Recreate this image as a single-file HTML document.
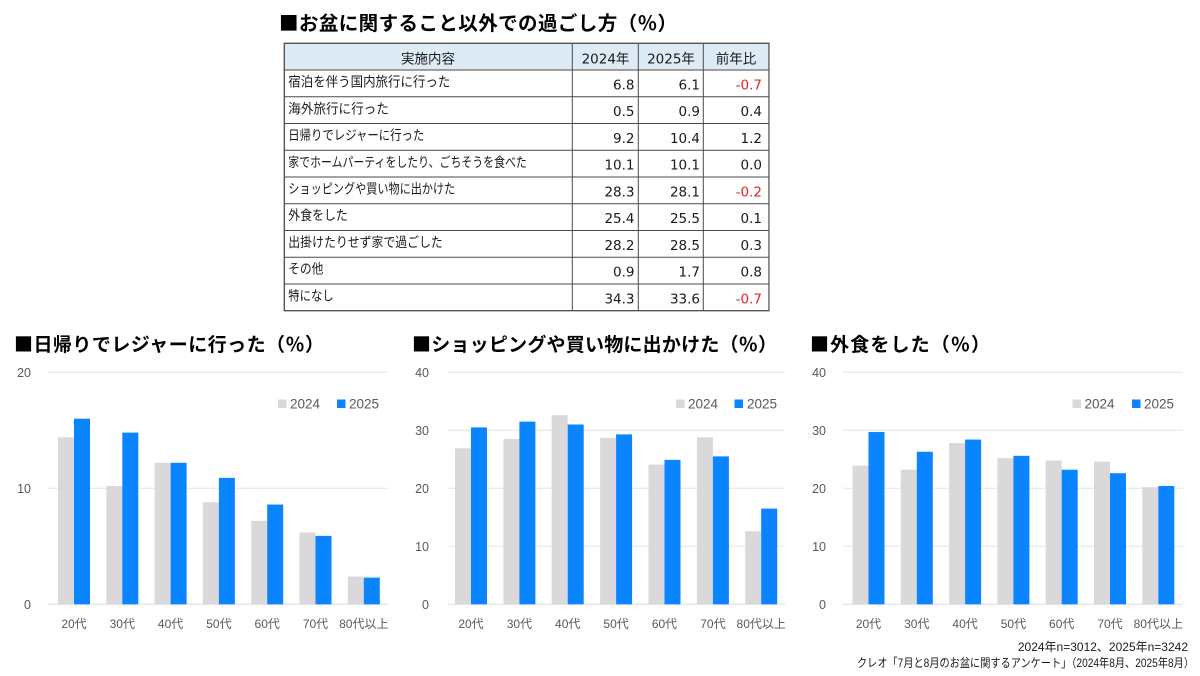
<!DOCTYPE html>
<html><head><meta charset="utf-8">
<style>
html,body{margin:0;padding:0;background:#fff;}
svg{display:block;}
.t{font-family:"Liberation Sans","Noto Sans CJK JP",sans-serif;font-weight:bold;fill:#000;}
.sq{font-family:"Noto Sans CJK JP",sans-serif;}
.lb{font-family:"Liberation Sans","Noto Sans CJK JP",sans-serif;font-size:13.5px;fill:#1a1a1a;}
.nm{font-family:"DejaVu Sans","Noto Sans CJK JP",sans-serif;font-size:13.5px;fill:#1a1a1a;}
.hd{font-family:"DejaVu Sans","Noto Sans CJK JP",sans-serif;font-size:13.5px;fill:#1a1a1a;}
.ax{font-family:"Liberation Sans","Noto Sans CJK JP",sans-serif;font-size:12.5px;fill:#595959;}
.xl{font-family:"Liberation Sans","Noto Sans CJK JP",sans-serif;font-size:12px;fill:#595959;}
.lg{font-family:"Liberation Sans","Noto Sans CJK JP",sans-serif;font-size:13.5px;fill:#595959;}
.ft{font-family:"Liberation Sans","Noto Sans CJK JP",sans-serif;font-size:12px;fill:#1a1a1a;}
.red{fill:#e3242b;}
</style></head>
<body>
<svg width="1200" height="676" viewBox="0 0 1200 676" xmlns="http://www.w3.org/2000/svg">
<rect width="1200" height="676" fill="#fff"/>

<!-- main title -->
<text class="t" x="279" y="30" font-size="19.5" textLength="398"><tspan class="sq">■</tspan>お盆に関すること以外での過ごし方（％）</text>

<!-- table -->
<rect x="284.3" y="43.3" width="484.7" height="26.7" fill="#ddebf7"/>
<g stroke="#4a4a4a" stroke-width="1" fill="none">
  <rect x="284.3" y="43.3" width="484.7" height="267.4" stroke-width="1.3"/>
  <line x1="284.3" y1="70" x2="769" y2="70"/>
  <line x1="284.3" y1="96.8" x2="769" y2="96.8"/>
  <line x1="284.3" y1="123.5" x2="769" y2="123.5"/>
  <line x1="284.3" y1="150.3" x2="769" y2="150.3"/>
  <line x1="284.3" y1="177" x2="769" y2="177"/>
  <line x1="284.3" y1="203.7" x2="769" y2="203.7"/>
  <line x1="284.3" y1="230.5" x2="769" y2="230.5"/>
  <line x1="284.3" y1="257.2" x2="769" y2="257.2"/>
  <line x1="284.3" y1="284" x2="769" y2="284"/>
  <line x1="572.3" y1="43.3" x2="572.3" y2="310.7"/>
  <line x1="638.3" y1="43.3" x2="638.3" y2="310.7"/>
  <line x1="703.3" y1="43.3" x2="703.3" y2="310.7"/>
</g>
<line x1="769.5" y1="43.3" x2="769.5" y2="311" stroke="#9a9a9a" stroke-width="1"/>

<text class="hd" x="428" y="63.5" text-anchor="middle">実施内容</text>
<text class="hd" x="605.5" y="63.5" text-anchor="middle">2024年</text>
<text class="hd" x="671" y="63.5" text-anchor="middle">2025年</text>
<text class="hd" x="736" y="63.5" text-anchor="middle">前年比</text>

<g>
<text class="lb" x="288.3" y="86.5" textLength="162" lengthAdjust="spacingAndGlyphs">宿泊を伴う国内旅行に行った</text>
<text class="lb" x="288.3" y="113.3" textLength="100.5" lengthAdjust="spacingAndGlyphs">海外旅行に行った</text>
<text class="lb" x="288.3" y="140" textLength="136" lengthAdjust="spacingAndGlyphs">日帰りでレジャーに行った</text>
<text class="lb" x="288.3" y="166.8" textLength="238.5" lengthAdjust="spacingAndGlyphs">家でホームパーティをしたり、ごちそうを食べた</text>
<text class="lb" x="288.3" y="193.5" textLength="167" lengthAdjust="spacingAndGlyphs">ショッピングや買い物に出かけた</text>
<text class="lb" x="288.3" y="220.2" textLength="59.5" lengthAdjust="spacingAndGlyphs">外食をした</text>
<text class="lb" x="288.3" y="247" textLength="154.5" lengthAdjust="spacingAndGlyphs">出掛けたりせず家で過ごした</text>
<text class="lb" x="288.3" y="273.7" textLength="35" lengthAdjust="spacingAndGlyphs">その他</text>
<text class="lb" x="288.3" y="300.5" textLength="45.5" lengthAdjust="spacingAndGlyphs">特になし</text>
</g>

<g text-anchor="end">
<text class="nm" x="634.5" y="89.3">6.8</text><text class="nm" x="700" y="89.3">6.1</text><text class="nm red" x="762" y="89.3">-0.7</text>
<text class="nm" x="634.5" y="116.1">0.5</text><text class="nm" x="700" y="116.1">0.9</text><text class="nm" x="762" y="116.1">0.4</text>
<text class="nm" x="634.5" y="142.8">9.2</text><text class="nm" x="700" y="142.8">10.4</text><text class="nm" x="762" y="142.8">1.2</text>
<text class="nm" x="634.5" y="169.6">10.1</text><text class="nm" x="700" y="169.6">10.1</text><text class="nm" x="762" y="169.6">0.0</text>
<text class="nm" x="634.5" y="196.3">28.3</text><text class="nm" x="700" y="196.3">28.1</text><text class="nm red" x="762" y="196.3">-0.2</text>
<text class="nm" x="634.5" y="223">25.4</text><text class="nm" x="700" y="223">25.5</text><text class="nm" x="762" y="223">0.1</text>
<text class="nm" x="634.5" y="249.8">28.2</text><text class="nm" x="700" y="249.8">28.5</text><text class="nm" x="762" y="249.8">0.3</text>
<text class="nm" x="634.5" y="276.5">0.9</text><text class="nm" x="700" y="276.5">1.7</text><text class="nm" x="762" y="276.5">0.8</text>
<text class="nm" x="634.5" y="303.3">34.3</text><text class="nm" x="700" y="303.3">33.6</text><text class="nm red" x="762" y="303.3">-0.7</text>
</g>

<!-- ============ Chart 1 ============ -->
<text class="t" x="14" y="351" font-size="19" textLength="310"><tspan class="sq">■</tspan>日帰りでレジャーに行った（％）</text>
<g stroke="#e4e4ea" stroke-width="1">
  <line x1="48" y1="372.3" x2="388" y2="372.3"/>
  <line x1="48" y1="488.3" x2="388" y2="488.3"/>
  <line x1="48" y1="604.3" x2="388" y2="604.3" stroke="#dcdce2"/>
</g>
<g text-anchor="end">
  <text class="ax" x="31" y="376.8">20</text>
  <text class="ax" x="31" y="492.8">10</text>
  <text class="ax" x="31" y="608.8">0</text>
</g>
<g transform="translate(0 604.3) scale(1 -11.6)">
  <g fill="#dad8db">
    <rect x="58" y="0" width="16" height="14.4"/>
    <rect x="106.3" y="0" width="16" height="10.2"/>
    <rect x="154.6" y="0" width="16" height="12.2"/>
    <rect x="202.9" y="0" width="16" height="8.8"/>
    <rect x="251.2" y="0" width="16" height="7.2"/>
    <rect x="299.5" y="0" width="16" height="6.2"/>
    <rect x="347.8" y="0" width="16" height="2.4"/>
  </g>
  <g fill="#0a84ff">
    <rect x="74" y="0" width="16" height="16.0"/>
    <rect x="122.3" y="0" width="16" height="14.8"/>
    <rect x="170.6" y="0" width="16" height="12.2"/>
    <rect x="218.9" y="0" width="16" height="10.9"/>
    <rect x="267.2" y="0" width="16" height="8.6"/>
    <rect x="315.5" y="0" width="16" height="5.9"/>
    <rect x="363.8" y="0" width="16" height="2.3"/>
  </g>
</g>
<g text-anchor="middle">
  <text class="xl" x="74" y="628">20代</text>
  <text class="xl" x="122.3" y="628">30代</text>
  <text class="xl" x="170.6" y="628">40代</text>
  <text class="xl" x="218.9" y="628">50代</text>
  <text class="xl" x="267.2" y="628">60代</text>
  <text class="xl" x="315.5" y="628">70代</text>
  <text class="xl" x="363.8" y="628">80代以上</text>
</g>
<rect x="278" y="399.5" width="8.5" height="8.5" fill="#dad8db"/>
<text class="lg" x="290" y="408.7">2024</text>
<rect x="337" y="399.5" width="8.5" height="8.5" fill="#0a84ff"/>
<text class="lg" x="349" y="408.7">2025</text>

<!-- ============ Chart 2 ============ -->
<text class="t" x="412" y="351" font-size="19" textLength="365"><tspan class="sq">■</tspan>ショッピングや買い物に出かけた（％）</text>
<g stroke="#e4e4ea" stroke-width="1">
  <line x1="448" y1="372.3" x2="785" y2="372.3"/>
  <line x1="448" y1="430.3" x2="785" y2="430.3"/>
  <line x1="448" y1="488.3" x2="785" y2="488.3"/>
  <line x1="448" y1="546.3" x2="785" y2="546.3"/>
  <line x1="448" y1="604.3" x2="785" y2="604.3" stroke="#dcdce2"/>
</g>
<g text-anchor="end">
  <text class="ax" x="429" y="376.8">40</text>
  <text class="ax" x="429" y="434.8">30</text>
  <text class="ax" x="429" y="492.8">20</text>
  <text class="ax" x="429" y="550.8">10</text>
  <text class="ax" x="429" y="608.8">0</text>
</g>
<g transform="translate(0 604.3) scale(1 -5.8)">
  <g fill="#dad8db">
    <rect x="455" y="0" width="16" height="26.9"/>
    <rect x="503.4" y="0" width="16" height="28.5"/>
    <rect x="551.7" y="0" width="16" height="32.6"/>
    <rect x="600.1" y="0" width="16" height="28.7"/>
    <rect x="648.5" y="0" width="16" height="24.1"/>
    <rect x="696.9" y="0" width="16" height="28.8"/>
    <rect x="745.2" y="0" width="16" height="12.6"/>
  </g>
  <g fill="#0a84ff">
    <rect x="471" y="0" width="16" height="30.5"/>
    <rect x="519.4" y="0" width="16" height="31.5"/>
    <rect x="567.7" y="0" width="16" height="31.0"/>
    <rect x="616.1" y="0" width="16" height="29.3"/>
    <rect x="664.5" y="0" width="16" height="24.9"/>
    <rect x="712.9" y="0" width="16" height="25.5"/>
    <rect x="761.2" y="0" width="16" height="16.5"/>
  </g>
</g>
<g text-anchor="middle">
  <text class="xl" x="471" y="628">20代</text>
  <text class="xl" x="519.4" y="628">30代</text>
  <text class="xl" x="567.7" y="628">40代</text>
  <text class="xl" x="616.1" y="628">50代</text>
  <text class="xl" x="664.5" y="628">60代</text>
  <text class="xl" x="712.9" y="628">70代</text>
  <text class="xl" x="761.2" y="628">80代以上</text>
</g>
<rect x="676" y="399.5" width="8.5" height="8.5" fill="#dad8db"/>
<text class="lg" x="688" y="408.7">2024</text>
<rect x="734.5" y="399.5" width="8.5" height="8.5" fill="#0a84ff"/>
<text class="lg" x="747" y="408.7">2025</text>

<!-- ============ Chart 3 ============ -->
<text class="t" x="810" y="351" font-size="19" textLength="180"><tspan class="sq">■</tspan>外食をした（％）</text>
<g stroke="#e4e4ea" stroke-width="1">
  <line x1="843" y1="372.3" x2="1183" y2="372.3"/>
  <line x1="843" y1="430.3" x2="1183" y2="430.3"/>
  <line x1="843" y1="488.3" x2="1183" y2="488.3"/>
  <line x1="843" y1="546.3" x2="1183" y2="546.3"/>
  <line x1="843" y1="604.3" x2="1183" y2="604.3" stroke="#dcdce2"/>
</g>
<g text-anchor="end">
  <text class="ax" x="826" y="376.8">40</text>
  <text class="ax" x="826" y="434.8">30</text>
  <text class="ax" x="826" y="492.8">20</text>
  <text class="ax" x="826" y="550.8">10</text>
  <text class="ax" x="826" y="608.8">0</text>
</g>
<g transform="translate(0 604.3) scale(1 -5.8)">
  <g fill="#dad8db">
    <rect x="852.5" y="0" width="16" height="23.9"/>
    <rect x="900.8" y="0" width="16" height="23.2"/>
    <rect x="949.1" y="0" width="16" height="27.8"/>
    <rect x="997.4" y="0" width="16" height="25.2"/>
    <rect x="1045.7" y="0" width="16" height="24.8"/>
    <rect x="1094" y="0" width="16" height="24.6"/>
    <rect x="1142.3" y="0" width="16" height="20.2"/>
  </g>
  <g fill="#0a84ff">
    <rect x="868.5" y="0" width="16" height="29.7"/>
    <rect x="916.8" y="0" width="16" height="26.3"/>
    <rect x="965.1" y="0" width="16" height="28.4"/>
    <rect x="1013.4" y="0" width="16" height="25.6"/>
    <rect x="1061.7" y="0" width="16" height="23.2"/>
    <rect x="1110" y="0" width="16" height="22.6"/>
    <rect x="1158.3" y="0" width="16" height="20.4"/>
  </g>
</g>
<g text-anchor="middle">
  <text class="xl" x="868.5" y="628">20代</text>
  <text class="xl" x="916.8" y="628">30代</text>
  <text class="xl" x="965.1" y="628">40代</text>
  <text class="xl" x="1013.4" y="628">50代</text>
  <text class="xl" x="1061.7" y="628">60代</text>
  <text class="xl" x="1110" y="628">70代</text>
  <text class="xl" x="1158.3" y="628">80代以上</text>
</g>
<rect x="1072.5" y="399.5" width="8.5" height="8.5" fill="#dad8db"/>
<text class="lg" x="1084.5" y="408.7">2024</text>
<rect x="1132" y="399.5" width="8.5" height="8.5" fill="#0a84ff"/>
<text class="lg" x="1144" y="408.7">2025</text>

<!-- footer -->
<text class="ft" x="1188" y="651" text-anchor="end">2024年n=3012、2025年n=3242</text>
<text class="ft" x="857" y="667" font-size="11.5" textLength="337" lengthAdjust="spacingAndGlyphs">クレオ「7月と8月のお盆に関するアンケート」（2024年8月、2025年8月）</text>
</svg>
</body></html>
